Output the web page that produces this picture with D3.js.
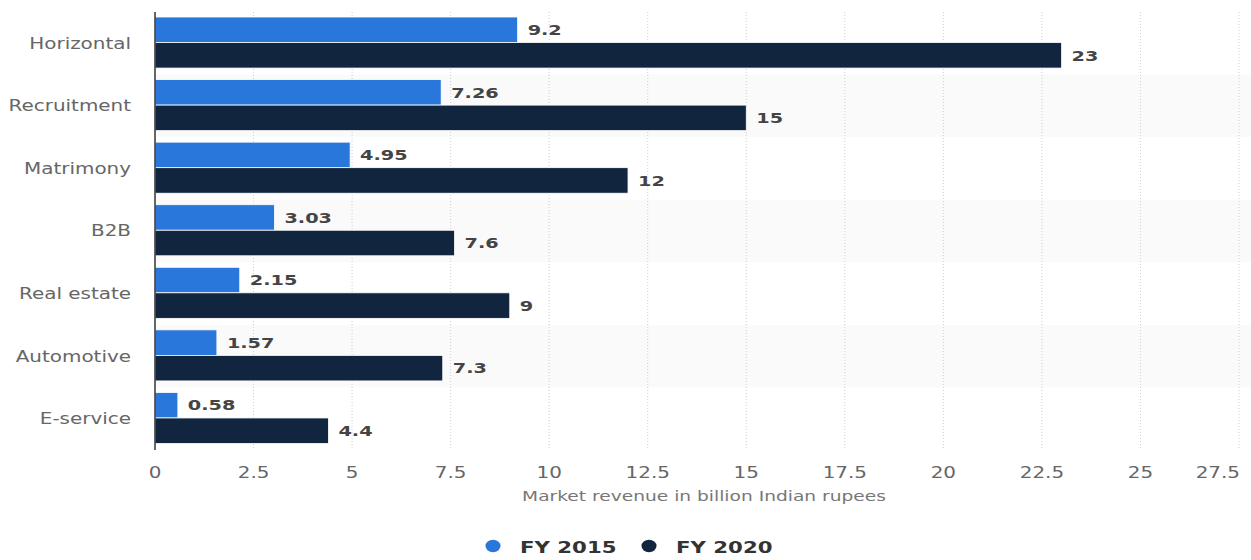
<!DOCTYPE html>
<html>
  <head>
    <meta charset="utf-8">
    <script src="https://d3js.org/d3.v7.min.js"></script>
    <title>Market revenue by segment</title>
    <style>
      body {
        margin: 0px;
        background: #ffffff;
      }
      text {
        font-family: 'DejaVu Sans', sans-serif;
      }
      .cat-label {
        fill: #666666;
        font-size: 15px;
      }
      .tick-label {
        fill: #666666;
        font-size: 15px;
      }
      .value-label {
        fill: #444444;
        font-size: 14.5px;
        font-weight: bold;
      }
      .axis-title {
        fill: #777777;
        font-size: 14px;
      }
      .legend-label {
        fill: #333333;
        font-size: 16px;
        font-weight: bold;
      }
    </style>
  </head>
  <body>
    <svg width="1251" height="560"></svg>
    <script>
      const categories = ['Horizontal', 'Recruitment', 'Matrimony', 'B2B', 'Real estate', 'Automotive', 'E-service'];
      const seriesNames = ['FY 2015', 'FY 2020'];
      const fy2015 = [9.2, 7.26, 4.95, 3.03, 2.15, 1.57, 0.58];
      const fy2020 = [23, 15, 12, 7.6, 9, 7.3, 4.4];
      const tickValues = [0, 2.5, 5, 7.5, 10, 12.5, 15, 17.5, 20, 22.5, 25, 27.5];
      const xLabel = 'Market revenue in billion Indian rupees';
      const colors = ['#2a77dc', '#11263e'];

      // the reference is a horizontally stretched screenshot
      const SX = 1.33;

      const svg = d3.select('svg');
      const plotLeft = 155, plotRight = 1239, plotTop = 12, plotBottom = 450;

      const xScale = d3.scaleLinear().domain([0, 27.5]).range([plotLeft, plotRight]);
      const yScale = d3.scaleBand().domain(categories).range([plotTop, plotBottom]);
      const innerScale = d3.scaleBand().domain(seriesNames)
        .range([5, yScale.bandwidth() - 6.5]);

      const data = categories.map((c, i) => ({
        category: c,
        values: [fy2015[i], fy2020[i]]
      }));

      const sText = (parent, x, y, anchor, cls, txt) => {
        parent.append('g')
            .attr('transform', `translate(${x},${y}) scale(${SX},1)`)
          .append('text')
            .attr('class', cls)
            .attr('text-anchor', anchor)
            .attr('dy', '0.36em')
            .text(txt);
      };

      // alternating row bands
      svg.append('g').selectAll('rect')
        .data(categories.filter((c, i) => i % 2 === 1))
        .enter().append('rect')
          .attr('x', plotLeft)
          .attr('y', d => yScale(d))
          .attr('width', 1251 - plotLeft)
          .attr('height', yScale.bandwidth())
          .attr('fill', '#fafafa');

      // grid
      svg.append('g').selectAll('line')
        .data(tickValues.slice(1))
        .enter().append('line')
          .attr('x1', d => xScale(d))
          .attr('x2', d => xScale(d))
          .attr('y1', plotTop)
          .attr('y2', plotBottom)
          .attr('stroke', '#cfcfcf')
          .attr('stroke-width', 1)
          .attr('stroke-dasharray', '1,2');

      // bars
      const rowG = svg.append('g').selectAll('g')
        .data(data)
        .enter().append('g')
          .attr('transform', d => `translate(0,${yScale(d.category)})`);

      rowG.selectAll('rect')
        .data(d => d.values.map((v, j) => ({ series: seriesNames[j], value: v, j })))
        .enter().append('rect')
          .attr('x', plotLeft)
          .attr('y', d => innerScale(d.series))
          .attr('width', d => xScale(d.value) - plotLeft)
          .attr('height', innerScale.bandwidth())
          .attr('fill', d => colors[d.j])
          .attr('stroke', '#ffffff')
          .attr('stroke-width', 0.8);

      rowG.each(function(d) {
        const g = d3.select(this);
        d.values.forEach((v, j) => {
          sText(g, xScale(v) + 10, innerScale(seriesNames[j]) + innerScale.bandwidth() / 2,
            'start', 'value-label', v);
        });
      });

      // category labels
      const catG = svg.append('g');
      categories.forEach(c => {
        sText(catG, 131, yScale(c) + yScale.bandwidth() / 2, 'end', 'cat-label', c);
      });

      // axis line
      svg.append('line')
        .attr('x1', plotLeft).attr('x2', plotLeft)
        .attr('y1', plotTop).attr('y2', plotBottom)
        .attr('stroke', '#333333')
        .attr('stroke-width', 1.5);

      // tick labels
      const tickG = svg.append('g');
      tickValues.forEach((t, i) => {
        const last = i === tickValues.length - 1;
        sText(tickG, last ? 1240 : xScale(t), 473, last ? 'end' : 'middle', 'tick-label', t);
      });

      sText(svg, (plotLeft + plotRight) / 2 + 7, 496, 'middle', 'axis-title', xLabel);

      // legend
      const legendX = [493, 649];
      seriesNames.forEach((s, i) => {
        svg.append('ellipse')
          .attr('cx', legendX[i])
          .attr('cy', 546)
          .attr('rx', 7.5)
          .attr('ry', 6.2)
          .attr('fill', colors[i]);
        sText(svg, legendX[i] + 27, 547, 'start', 'legend-label', s);
      });
    </script>
  </body>
</html>
